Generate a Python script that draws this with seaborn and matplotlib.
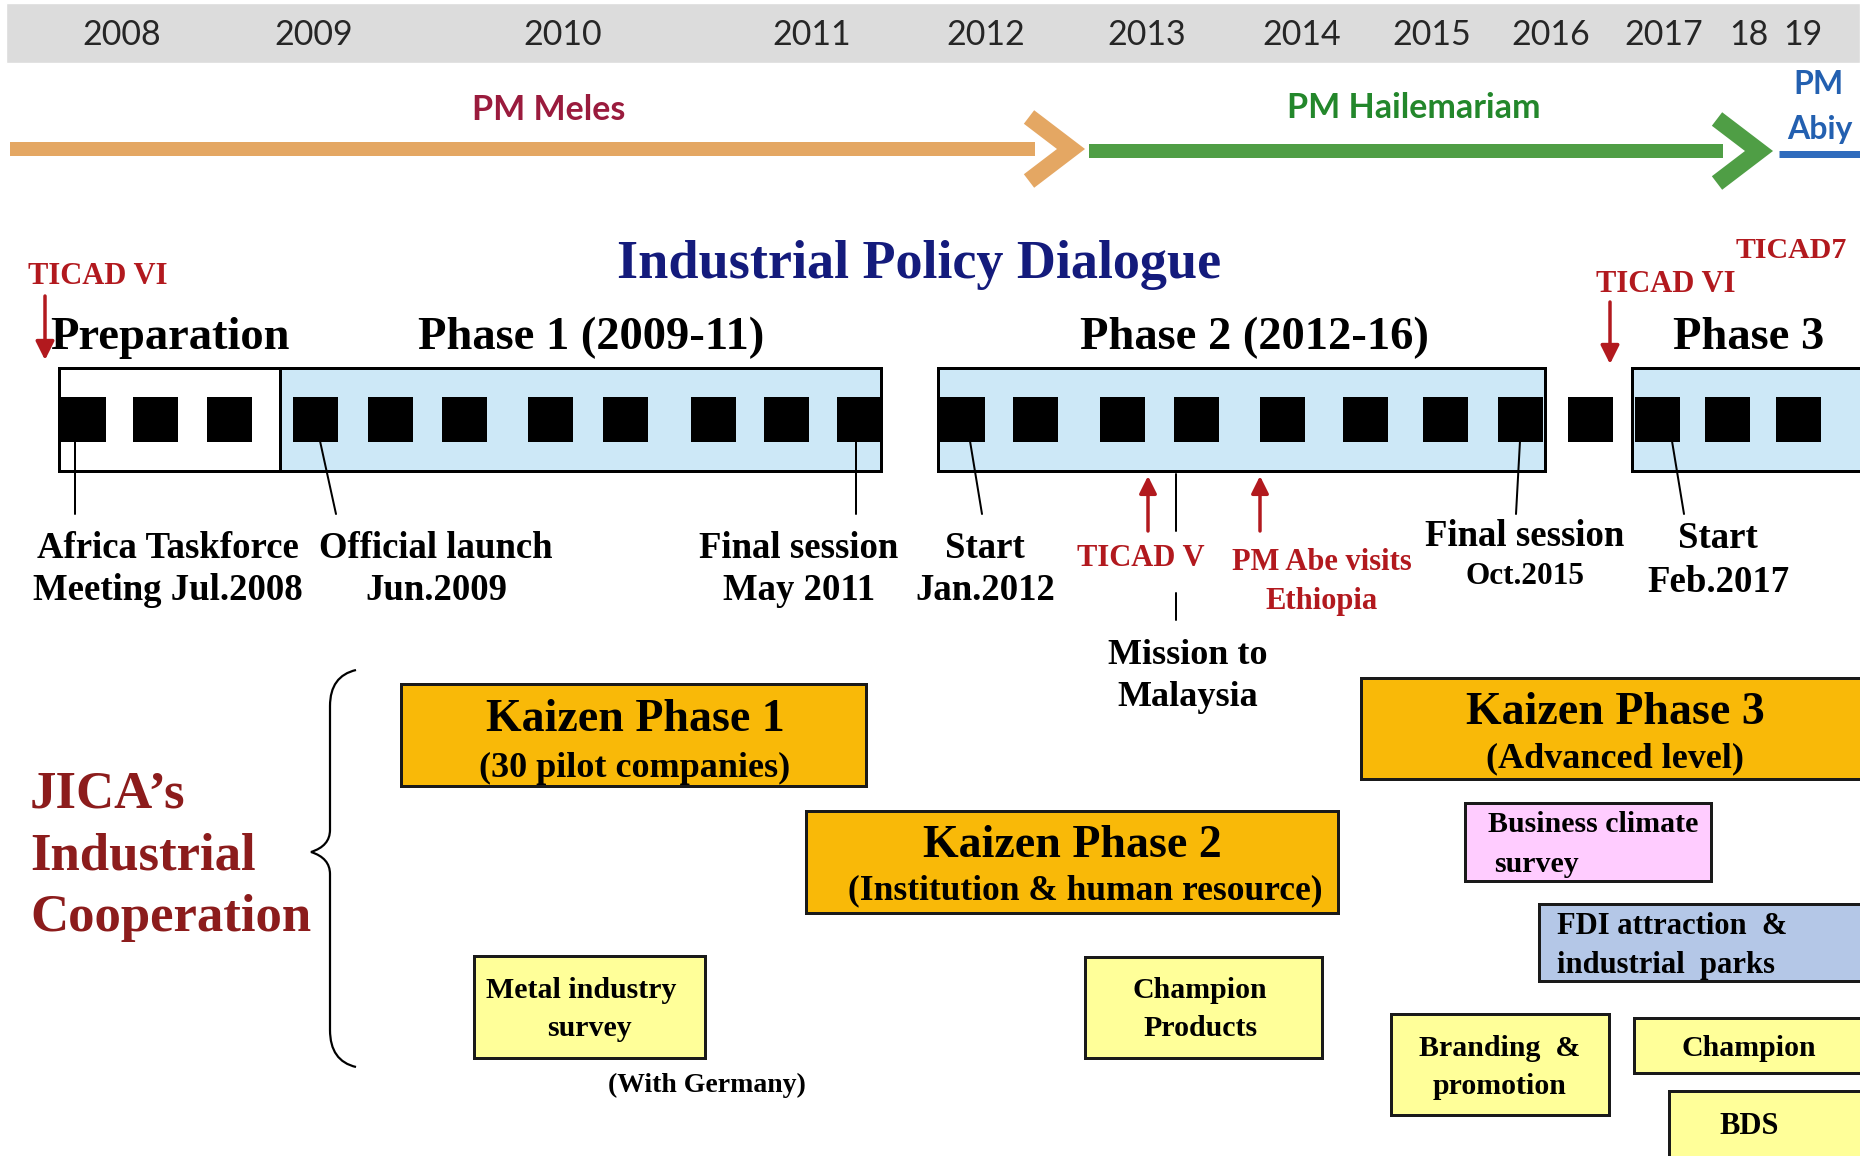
import numpy as np
import matplotlib
matplotlib.use('Agg')
import matplotlib.pyplot as plt
import seaborn as sns
import pandas as pd
from matplotlib.path import Path
from matplotlib.patches import PathPatch

sns.set_theme(style='white')
plt.rcParams['font.family'] = ['Liberation Serif', 'DejaVu Serif']
plt.rcParams['text.color'] = 'black'

# ---------------- data ----------------
YEAR_LABELS = ['2008', '2009', '2010', '2011', '2012', '2013', '2014', '2015', '2016', '2017', '18', '19']
YEAR_POS = [122, 314, 563, 812, 986, 1147, 1302, 1432, 1551, 1664, 1749, 1803]

PM_NAMES = ['PM Meles', 'PM Hailemariam', 'PM\nAbiy']
PM_START = [10, 1089, 1779]
PM_END = [1071, 1759, 1880]

PHASE_NAMES = ['Preparation', 'Phase 1 (2009-11)', 'Phase 2 (2012-16)', 'Phase 3']
PHASE_START = [59, 280, 938, 1632]
PHASE_END = [280, 881, 1545, 1885]

SESSION_POS = [83, 155, 229, 315, 390, 464, 550, 625, 713, 786, 859,
               962, 1035, 1122, 1196, 1282, 1365, 1445, 1520, 1590, 1657, 1727, 1798]

MILESTONES = ['Africa Taskforce\nMeeting Jul.2008', 'Official launch\nJun.2009',
              'Final session\nMay 2011', 'Start\nJan.2012',
              'Final session\nOct.2015', 'Start\nFeb.2017']
MS_TOP = [75, 320, 856, 970, 1520, 1672]
MS_BOTTOM = [75, 336, 856, 982, 1516, 1684]
MS_LABEL_X = [168, 436, 799, 985, 1525, 1718]

TICAD_LABELS = ['TICAD VI', 'TICAD VI', 'TICAD7', 'TICAD V', 'PM Abe visits\nEthiopia']

JICA_TITLE = "JICA\u2019s\nIndustrial\nCooperation"

PROJECTS = ['Kaizen Phase 1', 'Kaizen Phase 2', 'Kaizen Phase 3',
            'Metal industry survey', 'Champion Products', 'Business climate survey',
            'FDI attraction & industrial parks', 'Branding & promotion', 'Champion', 'BDS']
PROJ_START = [401, 806, 1361, 474, 1085, 1465, 1539, 1391, 1634, 1669]
PROJ_END = [866, 1338, 1885, 705, 1322, 1711, 1885, 1609, 1885, 1885]
PROJ_TOP = [684, 811, 678, 956, 957, 803, 904, 1014, 1018, 1091]
PROJ_BOTTOM = [786, 913, 779, 1058, 1058, 881, 981, 1115, 1073, 1160]
PROJ_COLOR = ['#f9b908', '#f9b908', '#f9b908', '#ffff99', '#ffff99', '#ffccff',
              '#b4c7e7', '#ffff99', '#ffff99', '#ffff99']

# ---------------- figure ----------------
W, H = 1860, 1156
fig = plt.figure(figsize=(W / 100, H / 100), dpi=100)
ax = fig.add_axes([0, 0, 1, 1])

PX = 72 / 100  # points per pixel
RED = '#b2191e'
DARKRED = '#8c1c1c'
NAVY = '#141b7c'
SANS = ['Lato', 'DejaVu Sans']

# year band
ax.barh(y=[33], width=[W - 6], left=[6], height=[60], color='#dcdcdc', zorder=0)
for lab, x in zip(YEAR_LABELS, YEAR_POS):
    ax.text(x, 35, lab, ha='center', va='center', fontsize=24.5, color='#262626', family=SANS)

# PM arrows
pm_colors = ['#e4a763', '#4f9e45', '#2f6bbd']
pm_text_colors = ['#9a1b3d', '#23872b', '#2360b0']
pm_y = [149, 151, 154]
for i, (s, e) in enumerate(zip(PM_START, PM_END)):
    c = pm_colors[i]
    y = pm_y[i]
    if i < 2:
        ax.plot([s, e - 36], [y, y], color=c, lw=14 * PX, solid_capstyle='butt', zorder=2)
        ax.plot([e - 42, e, e - 42], [y - 32, y, y + 32], color=c, lw=17 * PX,
                solid_joinstyle='miter', solid_capstyle='butt', zorder=2)
    else:
        ax.plot([s, e], [y, y], color=c, lw=7 * PX, solid_capstyle='butt', zorder=2)
ax.text(549, 110, PM_NAMES[0], ha='center', va='center', fontsize=24.5, fontweight='bold',
        color=pm_text_colors[0], family=SANS)
ax.text(1414, 108, PM_NAMES[1], ha='center', va='center', fontsize=24.5, fontweight='bold',
        color=pm_text_colors[1], family=SANS)
pm3a, pm3b = PM_NAMES[2].split('\n')
ax.text(1818, 85, pm3a, ha='center', va='center', fontsize=23, fontweight='bold',
        color=pm_text_colors[2], family=SANS)
ax.text(1820, 129, pm3b, ha='center', va='center', fontsize=23, fontweight='bold',
        color=pm_text_colors[2], family=SANS)

# title
ax.text(919, 265, 'Industrial Policy Dialogue', ha='center', va='center', fontsize=39,
        fontweight='bold', color=NAVY)

# phase labels
phase_label_x = [170, 591, 1254, 1749]
for name, x in zip(PHASE_NAMES, phase_label_x):
    ax.text(x, 338, name, ha='center', va='center', fontsize=33.5, fontweight='bold', color='black')

# TICAD markers above the strip
ax.text(98, 276, TICAD_LABELS[0], ha='center', va='center', fontsize=22, fontweight='bold', color=RED)
ax.annotate('', xy=(45, 360), xytext=(45, 296),
            arrowprops=dict(arrowstyle='-|>', color=RED, lw=2.5, mutation_scale=28, shrinkA=0, shrinkB=0))
ax.text(1666, 284, TICAD_LABELS[1], ha='center', va='center', fontsize=22, fontweight='bold', color=RED)
ax.annotate('', xy=(1610, 364), xytext=(1610, 302),
            arrowprops=dict(arrowstyle='-|>', color=RED, lw=2.5, mutation_scale=28, shrinkA=0, shrinkB=0))
ax.text(1791, 251, TICAD_LABELS[2], ha='center', va='center', fontsize=21.5, fontweight='bold', color=RED)

# film strip phases
phase_colors = ['white', '#cde8f7', '#cde8f7', '#cde8f7']
strip_top, strip_bot = 368, 471
for s, e, c in zip(PHASE_START, PHASE_END, phase_colors):
    ax.barh(y=[(strip_top + strip_bot) / 2], width=[e - s], left=[s], height=[strip_bot - strip_top],
            color=c, edgecolor='black', linewidth=3 * PX, zorder=1)

sessions = pd.DataFrame({'x': SESSION_POS, 'y': [419] * len(SESSION_POS)})
sns.scatterplot(data=sessions, x='x', y='y', marker='s', s=(45 * PX) ** 2, color='black',
                linewidth=0, ax=ax, zorder=3, legend=False)

# milestone leaders and labels
MS_FS = 26.5
for i, (lab, xt, xb, xl) in enumerate(zip(MILESTONES, MS_TOP, MS_BOTTOM, MS_LABEL_X)):
    ax.plot([xt, xb], [441, 514], color='black', lw=2 * PX, zorder=4)
    l1, l2 = lab.split('\n')
    if i == 4:
        ax.text(xl, 536, l1, ha='center', va='center', fontsize=MS_FS, fontweight='bold')
        ax.text(xl, 576, l2, ha='center', va='center', fontsize=22.5, fontweight='bold')
    elif i == 5:
        ax.text(xl, 539, l1, ha='center', va='center', fontsize=MS_FS, fontweight='bold')
        ax.text(xl, 583, l2, ha='center', va='center', fontsize=MS_FS, fontweight='bold')
    else:
        ax.text(xl, 548, l1, ha='center', va='center', fontsize=MS_FS, fontweight='bold')
        ax.text(xl, 590, l2, ha='center', va='center', fontsize=MS_FS, fontweight='bold')

# TICAD V / Mission / PM Abe
for x in [1148, 1260]:
    ax.annotate('', xy=(x, 476), xytext=(x, 531),
                arrowprops=dict(arrowstyle='-|>', color=RED, lw=2.5, mutation_scale=26, shrinkA=0, shrinkB=0))
ax.plot([1176, 1176], [474, 531], color='black', lw=2 * PX)
ax.plot([1176, 1176], [593, 620], color='black', lw=2 * PX)
ax.text(1141, 559, TICAD_LABELS[3], ha='center', va='center', fontsize=22, fontweight='bold', color=RED)
ab1, ab2 = TICAD_LABELS[4].split('\n')
ax.text(1322, 562, ab1, ha='center', va='center', fontsize=22, fontweight='bold', color=RED)
ax.text(1322, 601, ab2, ha='center', va='center', fontsize=22, fontweight='bold', color=RED)
ax.text(1188, 655, 'Mission to', ha='center', va='center', fontsize=26, fontweight='bold')
ax.text(1188, 698, 'Malaysia', ha='center', va='center', fontsize=26, fontweight='bold')

# JICA title and brace
for j, line in enumerate(JICA_TITLE.split('\n')):
    ax.text(30, 794 + j * 62, line, ha='left', va='center', fontsize=38, fontweight='bold', color=DARKRED)

verts = [(356, 670), (330, 676), (330, 706), (330, 830), (330, 846), (311, 852),
         (330, 858), (330, 874), (330, 1030), (330, 1061), (356, 1067)]
codes = [Path.MOVETO, Path.CURVE3, Path.CURVE3, Path.LINETO, Path.CURVE3, Path.CURVE3,
         Path.CURVE3, Path.CURVE3, Path.LINETO, Path.CURVE3, Path.CURVE3]
ax.add_patch(PathPatch(Path(verts, codes), fill=False, lw=2.2 * PX, edgecolor='black'))

# project boxes
for s, e, t, b, c in zip(PROJ_START, PROJ_END, PROJ_TOP, PROJ_BOTTOM, PROJ_COLOR):
    ax.barh(y=[(t + b) / 2], width=[e - s], left=[s], height=[b - t], color=c,
            edgecolor='#1a1a1a', linewidth=3 * PX, zorder=2)

def T(x, y, s, fs, ha='center', color='black'):
    ax.text(x, y, s, ha=ha, va='center', fontsize=fs, fontweight='bold', color=color, zorder=5)

T(635, 720, 'Kaizen Phase 1', 33)
T(635, 768, '(30 pilot companies)', 26)
T(1072, 846, 'Kaizen Phase 2', 33)
T(1085, 891, '(Institution & human resource)', 25.5)
T(1615, 713, 'Kaizen Phase 3', 33)
T(1615, 759, '(Advanced level)', 26)
T(581, 990, 'Metal industry', 21.5)
T(589, 1029, 'survey', 21.5)
T(707, 1085, '(With Germany)', 20)
T(1200, 990, 'Champion', 21.5)
T(1200, 1029, 'Products', 21.5)
T(1593, 825, 'Business climate', 21.5)
T(1536, 864, 'survey', 21.5)
T(1557, 927, 'FDI attraction  &', 22, ha='left')
T(1557, 966, 'industrial  parks', 22, ha='left')
T(1500, 1048, 'Branding  &', 21.5)
T(1500, 1087, 'promotion', 21.5)
T(1749, 1048, 'Champion', 21.5)
T(1749, 1127, 'BDS', 22)

ax.set_xlim(0, W)
ax.set_ylim(H, 0)
ax.axis('off')

fig.savefig('out.png', dpi=100)
